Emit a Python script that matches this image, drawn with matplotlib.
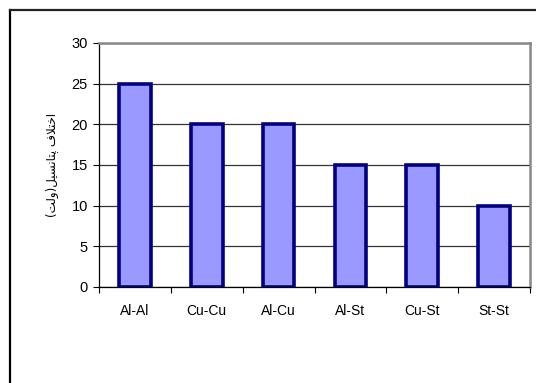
import matplotlib.pyplot as plt
from matplotlib.lines import Line2D

categories = ["Al-Al", "Cu-Cu", "Al-Cu", "Al-St", "Cu-St", "St-St"]
values = [25, 20, 20, 15, 15, 10]

# Persian y label, shaped by hand (matplotlib does no Arabic shaping)
# logical text: "اختلاف پتانسیل(ولت)"
ylabel_forms = [0xFE8D, 0xFEA7, 0xFE98, 0xFEFC, 0xFED1, ord(" "),
                0xFB58, 0xFE98, 0xFE8E, 0xFEE7, 0xFEB4, 0xFBFF, 0xFEDE,
                ord("("), 0xFEED, 0xFEDF, 0xFE96, ord(")")]
mirror = {"(": ")", ")": "("}
ylabel = "".join(mirror.get(chr(c), chr(c)) for c in reversed(ylabel_forms))

plt.rcParams["font.family"] = ["Liberation Sans", "DejaVu Sans"]

W, H = 536, 383
fig = plt.figure(figsize=(W / 100, H / 100), dpi=100)
ax = fig.add_axes([99 / W, 1 - 287 / H, (530 - 99) / W, (287 - 43) / H])

x = list(range(len(categories)))
ax.bar(x, values, width=0.44, color="#9999FF", edgecolor="#000080",
       linewidth=2.6, zorder=3)

ax.set_xlim(-0.5, len(categories) - 0.5)
ax.set_ylim(0, 30)
ax.set_yticks(range(0, 31, 5))
ax.yaxis.grid(True, color="#333333", linewidth=0.9, zorder=0)

ax.set_xticks([i - 0.5 for i in range(len(categories) + 1)])
ax.set_xticklabels([])
ax.set_xticks(x, minor=True)
ax.set_xticklabels(categories, minor=True)
ax.tick_params(axis="x", which="major", length=4, width=0.8, direction="out")
ax.tick_params(axis="x", which="minor", length=0, pad=12, labelsize=10)
ax.tick_params(axis="y", length=4, width=0.8, pad=4, labelsize=10.5)

for s in ["top", "right"]:
    ax.spines[s].set_color("#888888")
    ax.spines[s].set_linewidth(1.8)
for s in ["left", "bottom"]:
    ax.spines[s].set_color("black")
    ax.spines[s].set_linewidth(0.9)

fig.text(52 / W, 1 - 165 / H, ylabel, rotation=90, ha="center", va="center",
         fontsize=8.5, family=["DejaVu Sans"])

# outer frame (left and top edges only)
fig.add_artist(Line2D([9.5 / W, 9.5 / W], [0, 1 - 9.5 / H], color="black",
                      linewidth=1.6, transform=fig.transFigure))
fig.add_artist(Line2D([9.5 / W, 1], [1 - 9.5 / H, 1 - 9.5 / H], color="#222222",
                      linewidth=1.6, transform=fig.transFigure))

fig.savefig("out.png", dpi=100)
